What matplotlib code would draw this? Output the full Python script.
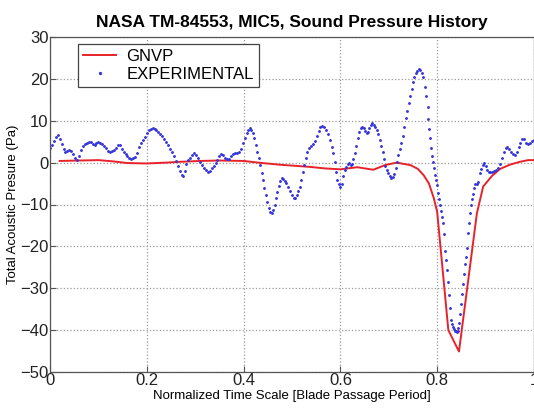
import numpy as np
import matplotlib
matplotlib.use("Agg")
import matplotlib.pyplot as plt

# experimental sound pressure (blue dots)
exp_t = [
    0.000, 0.004, 0.008, 0.012, 0.016, 0.020, 0.024, 0.028, 0.032, 0.036,
    0.040, 0.044, 0.048, 0.052, 0.056, 0.060, 0.064, 0.068, 0.072, 0.076,
    0.080, 0.084, 0.088, 0.092, 0.096, 0.100, 0.104, 0.108, 0.112, 0.116,
    0.120, 0.124, 0.128, 0.132, 0.136, 0.140, 0.144, 0.148, 0.152, 0.156,
    0.160, 0.164, 0.168, 0.172, 0.176, 0.180, 0.184, 0.188, 0.192, 0.196,
    0.200, 0.204, 0.208, 0.212, 0.216, 0.220, 0.224, 0.228, 0.232, 0.236,
    0.240, 0.244, 0.248, 0.252, 0.256, 0.260, 0.264, 0.268, 0.272, 0.275,
    0.278, 0.282, 0.286, 0.290, 0.294, 0.298, 0.302, 0.306, 0.310, 0.314,
    0.318, 0.322, 0.326, 0.330, 0.334, 0.338, 0.342, 0.346, 0.350, 0.354,
    0.358, 0.362, 0.366, 0.370, 0.374, 0.378, 0.382, 0.386, 0.390, 0.394,
    0.398, 0.402, 0.406, 0.410, 0.413, 0.416, 0.419, 0.422, 0.425, 0.428,
    0.431, 0.434, 0.437, 0.440, 0.443, 0.446, 0.449, 0.452, 0.455, 0.458,
    0.461, 0.464, 0.467, 0.470, 0.473, 0.476, 0.479, 0.482, 0.485, 0.488,
    0.492, 0.496, 0.500, 0.504, 0.507, 0.510, 0.513, 0.516, 0.519, 0.522,
    0.525, 0.528, 0.532, 0.536, 0.540, 0.544, 0.548, 0.552, 0.555, 0.558,
    0.562, 0.566, 0.570, 0.574, 0.578, 0.582, 0.585, 0.588, 0.591, 0.594,
    0.597, 0.600, 0.603, 0.606, 0.609, 0.612, 0.615, 0.618, 0.621, 0.624,
    0.627, 0.630, 0.633, 0.636, 0.639, 0.642, 0.645, 0.648, 0.651, 0.654,
    0.657, 0.660, 0.663, 0.666, 0.669, 0.672, 0.675, 0.678, 0.681, 0.684,
    0.687, 0.690, 0.693, 0.696, 0.699, 0.702, 0.705, 0.708, 0.711, 0.714,
    0.717, 0.720, 0.723, 0.726, 0.729, 0.732, 0.735, 0.738, 0.741, 0.744,
    0.747, 0.750, 0.753, 0.756, 0.759, 0.762, 0.765, 0.768, 0.771, 0.774,
    0.777, 0.780, 0.782, 0.784, 0.786, 0.788, 0.790, 0.792, 0.794, 0.796,
    0.798, 0.800, 0.802, 0.804, 0.806, 0.808, 0.810, 0.812, 0.814, 0.816,
    0.818, 0.820, 0.822, 0.824, 0.826, 0.828, 0.830, 0.832, 0.834, 0.836,
    0.838, 0.840, 0.842, 0.844, 0.846, 0.848, 0.850, 0.852, 0.854, 0.856,
    0.858, 0.860, 0.862, 0.864, 0.866, 0.868, 0.870, 0.872, 0.874, 0.876,
    0.879, 0.882, 0.885, 0.888, 0.891, 0.894, 0.897, 0.900, 0.903, 0.906,
    0.910, 0.914, 0.918, 0.922, 0.926, 0.930, 0.934, 0.938, 0.942, 0.945,
    0.948, 0.952, 0.956, 0.960, 0.964, 0.968, 0.972, 0.976, 0.980, 0.984,
    0.988, 0.992, 0.996, 1.000,
]
exp_p = [
    3.4, 4.2, 5.2, 6.2, 6.5, 5.6, 4.5, 3.3, 2.6, 2.7,
    3.1, 2.8, 2.0, 1.0, 0.6, 1.6, 3.0, 4.0, 4.4, 4.8,
    5.0, 4.9, 4.4, 4.2, 4.7, 5.0, 4.8, 4.4, 4.0, 3.4,
    2.8, 2.6, 2.7, 3.0, 3.6, 4.3, 4.2, 3.2, 2.5, 2.0,
    1.5, 1.0, 0.9, 1.1, 1.4, 2.4, 3.8, 4.8, 5.5, 6.2,
    7.0, 7.8, 8.1, 8.2, 8.1, 7.7, 7.4, 6.9, 6.3, 5.6,
    5.0, 4.2, 3.2, 2.5, 1.6, 0.4, -0.8, -1.9, -2.9, -3.3,
    -2.0, -0.3, 0.6, 1.2, 1.8, 2.2, 1.9, 1.0, 0.2, -0.5,
    -1.2, -1.8, -2.2, -2.0, -1.4, -0.8, 0.0, 0.7, 1.5, 2.1,
    1.8, 1.2, 0.8, 0.8, 1.5, 2.1, 2.3, 2.4, 2.6, 3.2,
    4.6, 5.9, 7.0, 7.9, 8.2, 7.8, 7.0, 5.8, 4.2, 2.6,
    1.0, -0.6, -2.4, -4.2, -6.0, -7.8, -9.5, -10.8, -11.8, -12.1,
    -11.3, -10.0, -8.5, -7.0, -5.6, -4.4, -3.7, -3.8, -4.3, -4.9,
    -5.8, -6.8, -7.7, -8.4, -8.5, -7.8, -6.8, -5.8, -4.2, -2.3,
    -0.5, 1.2, 2.6, 3.4, 4.0, 4.5, 5.2, 6.4, 7.6, 8.6,
    8.7, 8.4, 7.9, 6.8, 5.4, 3.8, 2.2, 0.2, -2.2, -4.1,
    -5.2, -5.9, -5.0, -3.3, -1.8, -1.0, -0.3, -0.1, -0.5, -0.4,
    0.9, 2.2, 4.0, 5.8, 7.4, 8.2, 8.4, 8.3, 7.6, 7.1,
    7.3, 8.2, 9.0, 9.4, 9.0, 8.4, 7.8, 6.8, 5.4, 4.0,
    2.6, 0.8, -0.9, -1.8, -2.5, -3.1, -3.6, -3.5, -2.6, -1.4,
    0.2, 1.8, 3.3, 4.7, 6.4, 8.6, 10.6, 12.4, 14.3, 16.0,
    17.7, 19.2, 20.5, 21.3, 21.9, 22.4, 22.2, 21.5, 20.4, 18.0,
    16.0, 13.4, 10.5, 8.0, 5.8, 3.6, 1.6, 0.2, -1.4, -2.9,
    -4.2, -5.4, -7.2, -8.8, -10.1, -11.6, -13.0, -14.5, -17.0, -21.0,
    -23.3, -25.6, -28.6, -31.6, -34.6, -37.6, -38.6, -39.2, -39.7, -40.1,
    -40.3, -40.4, -40.1, -39.6, -38.4, -36.2, -33.8, -31.4, -29.0, -26.7,
    -24.3, -22.6, -20.5, -16.9, -14.5, -12.1, -10.1, -8.7, -7.4, -6.0,
    -5.2, -5.0, -4.6, -2.5, -1.5, -0.6, -0.2, -0.9, -1.7, -2.2,
    -2.3, -2.3, -2.1, -1.8, -1.4, -0.3, 1.2, 2.5, 3.5, 3.8,
    3.3, 2.6, 2.1, 1.8, 2.6, 3.7, 4.8, 5.6, 5.6, 4.8,
    4.4, 4.6, 5.2, 5.5,
]

# GNVP prediction (red line)
gnvp_t = [0.020, 0.060, 0.100, 0.130, 0.160, 0.200, 0.240, 0.270, 0.310,
          0.350, 0.400, 0.430, 0.475, 0.535, 0.570, 0.600, 0.635, 0.668,
          0.692, 0.716, 0.745, 0.760, 0.772, 0.783, 0.793, 0.800, 0.823,
          0.845, 0.882, 0.895, 0.913, 0.930, 0.950, 0.971, 0.988, 1.000]
gnvp_p = [0.4, 0.5, 0.6, 0.3, -0.1, -0.2, 0.0, 0.2, 0.4,
          0.5, 0.4, 0.0, -0.5, -1.0, -1.4, -1.6, -1.1, -1.7,
          -0.6, 0.0, -0.6, -1.5, -3.0, -5.0, -8.5, -11.8, -40.0,
          -45.1, -12.1, -5.7, -3.2, -1.5, -0.5, 0.2, 0.6, 0.6]

x_ticks = [0, 0.2, 0.4, 0.6, 0.8, 1]
x_ticklabels = ['0', '0.2', '0.4', '0.6', '0.8', '1']
y_ticks = [-50, -40, -30, -20, -10, 0, 10, 20, 30]

plt.rcParams['font.family'] = ['Liberation Sans', 'DejaVu Sans']

fig = plt.figure(figsize=(5.34, 4.08), dpi=100)
ax = fig.add_axes([50 / 534, 36 / 408, 484 / 534, 335 / 408])

ax.plot(gnvp_t, gnvp_p, color='#e8222a', lw=1.4, label='GNVP')
ax.plot(exp_t, exp_p, ls='none', marker='.', ms=2.1, color='#3535d8',
        label='EXPERIMENTAL')

ax.set_xlim(0, 1)
ax.set_ylim(-50, 30)
ax.set_xticks(x_ticks)
ax.set_xticklabels(x_ticklabels)
ax.set_yticks(y_ticks)
ax.tick_params(direction='in', length=4, labelsize=12, pad=1, color='#555555',
               labelcolor='#222222')
ax.grid(True, ls=':', color='#9a9a9a', lw=0.9)
for s in ax.spines.values():
    s.set_color('#555555')
    s.set_linewidth(0.9)

ax.set_title('NASA TM-84553, MIC5, Sound Pressure History',
             fontsize=12.5, fontweight='bold', pad=7)
ax.set_xlabel('Normalized Time Scale [Blade Passage Period]', fontsize=9.5, labelpad=1)
ax.set_ylabel('Total Acoustic Presure (Pa)', fontsize=9.5, labelpad=1)

leg = ax.legend(loc='upper left', bbox_to_anchor=(0.058, 0.979), borderaxespad=0,
                fontsize=12, fancybox=False, framealpha=1, edgecolor='#444444',
                handlelength=2.0, handletextpad=0.6, borderpad=0.3,
                labelspacing=0.15, markerscale=1.3)
leg.get_frame().set_linewidth(0.9)

fig.savefig('out.png', dpi=100)
